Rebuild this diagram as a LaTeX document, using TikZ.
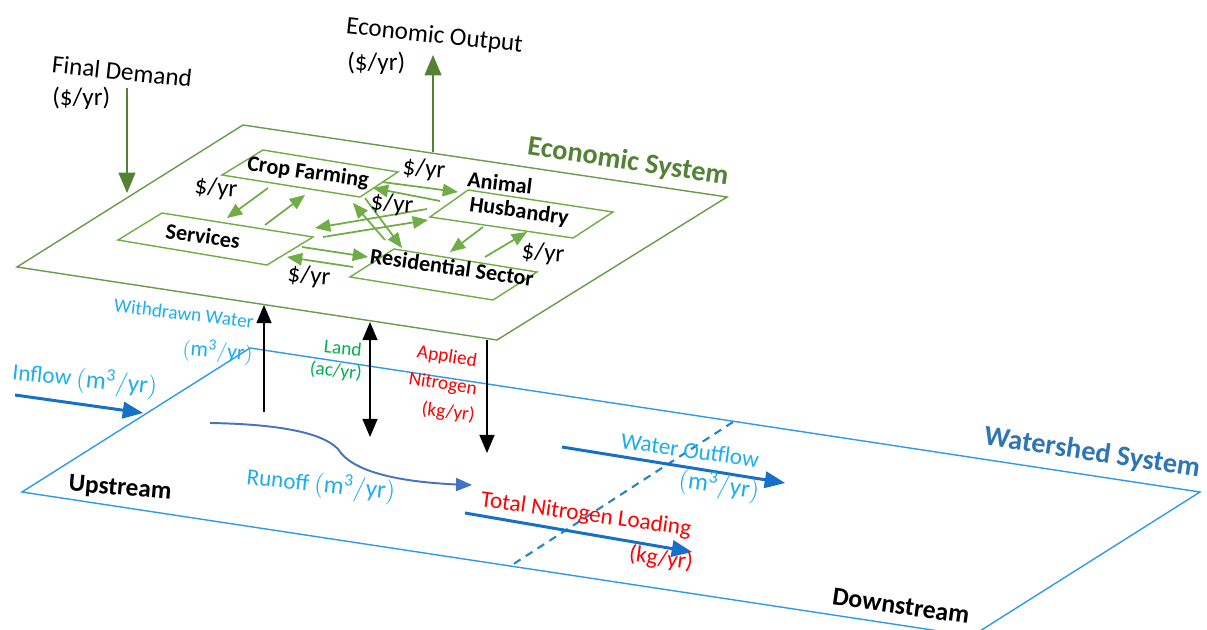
\documentclass[tikz,border=0pt]{standalone}
\usepackage{fontspec}
\setmainfont{Carlito}
\usepackage{tikz}
\usetikzlibrary{arrows}

\definecolor{ecodark}{HTML}{548235}
\definecolor{ecoline}{HTML}{6A9A4A}
\definecolor{ecolight}{HTML}{70AD47}
\definecolor{shedline}{HTML}{2E9AEB}
\definecolor{shedtitle}{HTML}{2E75B6}
\definecolor{flowblue}{HTML}{1670C8}
\definecolor{runblue}{HTML}{4472C4}
\definecolor{cyanlbl}{HTML}{1CAEEF}
\definecolor{landgreen}{HTML}{00B050}
\definecolor{nred}{HTML}{FF0000}

\newcommand{\mthree}{{\fontsize{14.2}{16}\selectfont$(\mathrm{m^3/yr})$}}

\tikzset{
	plane/.style={line width=0.8pt},
	sector/.style={draw=ecolight, line width=0.8pt},
	trade/.style={ecolight, line width=1pt, ->},
	money/.style={ecodark, line width=1.7pt, ->},
	vflow/.style={black, line width=1.4pt},
	bigflow/.style={flowblue, line width=1.7pt, ->},
	lbl/.style={font=\fontsize{14.3}{17}\selectfont, inner sep=0pt},
	boxlbl/.style={font=\fontsize{12.6}{15}\selectfont\bfseries, inner sep=0pt},
	small/.style={font=\fontsize{11}{13}\selectfont, inner sep=0pt},
	mid/.style={font=\fontsize{13.2}{16}\selectfont, inner sep=0pt},
	title/.style={font=\fontsize{16.1}{19}\selectfont\bfseries, inner sep=0pt}
}

\begin{document}
\begin{tikzpicture}[x=0.02cm, y=-0.02cm, >=triangle 45]
	\useasboundingbox (0,0) rectangle (1207,629);

	% watershed system
	\begin{scope}
		\draw[plane, shedline] (250,348) -- (1200,492) -- (972,636) -- (22,492) -- cycle;
		\draw[shedtitle!90!cyan, line width=1.2pt, dash pattern=on 4.5pt off 3.5pt] (733,422) -- (512,565);

		\node[title, shedtitle, rotate=-8.6] (wsys) at (1092,453) {Watershed System};
		\node[lbl, font=\fontsize{14.4}{17}\selectfont\bfseries, rotate=-5] (up) at (120,489) {Upstream};
		\node[lbl, font=\fontsize{14.7}{17}\selectfont\bfseries, rotate=-8] (down) at (901,606) {Downstream};

		\coordinate (in0) at (15,395);
		\coordinate (in1) at (143,413);
		\draw[bigflow] (in0) -- (in1);
		\node[mid, cyanlbl, rotate=-6] (inflow) at (85,380) {Inflow \mthree};

		\coordinate (ro0) at (210,423);
		\coordinate (ro1) at (472,485);
		\draw[runblue, line width=1.1pt, ->] (ro0) .. controls (275,424) and (322,432) .. (338,449) .. controls (352,472) and (400,483) .. (ro1);
		\node[mid, cyanlbl, rotate=-6] (runoff) at (321,485) {Runoff \mthree};

		\coordinate (wo0) at (562,447);
		\coordinate (wo1) at (785,483);
		\draw[bigflow] (wo0) -- (wo1);
		\node[mid, cyanlbl, rotate=-8] (wout1) at (690,450) {Water Outflow};
		\node[mid, cyanlbl, rotate=-8] (wout2) at (719,486) {\mthree};

		\coordinate (tn0) at (465,513);
		\coordinate (tn1) at (692,552);
		\draw[bigflow] (tn0) -- (tn1);
		\node[mid, nred, rotate=-8] (tnl1) at (586,515) {Total Nitrogen Loading};
		\node[mid, nred, rotate=-8] (tnl2) at (661,559) {(kg/yr)};
	\end{scope}

	% economic system
	\begin{scope}
		\draw[plane, ecoline] (243,125) -- (727,197) -- (497,340) -- (17,267) -- cycle;
		\node[title, ecodark, rotate=-8.5] (esys) at (628,162) {Economic System};

		\draw[sector] (263,150) -- (398,172) -- (360,197) -- (222,175) -- cycle;
		\draw[sector] (162,213) -- (313,237) -- (267,265) -- (118,240) -- cycle;
		\draw[sector] (468,190) -- (613,212) -- (573,238) -- (430,217) -- cycle;
		\draw[sector] (394,249) -- (537,272) -- (493,300) -- (350,277) -- cycle;

		\node[boxlbl, rotate=-8] (crop) at (308,173) {Crop Farming};
		\node[boxlbl, rotate=-8] (serv) at (203,236) {Services};
		\node[boxlbl, rotate=-7] (anim1) at (500,183) {Animal};
		\node[boxlbl, rotate=-8] (anim2) at (519,212) {Husbandry};
		\node[boxlbl, rotate=-8] (resid) at (452,267) {Residential Sector};

		% flows between sectors
		\coordinate (cs0) at (268,188); \coordinate (cs1) at (227,218);
		\coordinate (sc0) at (265,225); \coordinate (sc1) at (305,195);
		\coordinate (ca0) at (382,182); \coordinate (ca1) at (458,192);
		\coordinate (ac0) at (440,201); \coordinate (ac1) at (373,188);
		\coordinate (as0) at (427,209); \coordinate (as1) at (315,228);
		\coordinate (sa0) at (323,237); \coordinate (sa1) at (428,220);
		\coordinate (rc0) at (385,240); \coordinate (rc1) at (353,203);
		\coordinate (cr0) at (365,198); \coordinate (cr1) at (402,248);
		\coordinate (sr0) at (302,247); \coordinate (sr1) at (368,257);
		\coordinate (rs0) at (353,267); \coordinate (rs1) at (287,257);
		\coordinate (ar0) at (483,227); \coordinate (ar1) at (450,252);
		\coordinate (ra0) at (485,257); \coordinate (ra1) at (527,232);
		\foreach \f in {cs,sc,ca,ac,as,sa,rc,cr,sr,rs,ar,ra}
			\draw[trade] (\f0) -- (\f1);

		\node[lbl, rotate=-5] (p1) at (216,189) {\$/yr};
		\node[lbl, rotate=-5] (p2) at (424,170) {\$/yr};
		\node[lbl, rotate=-5] (p3) at (392,205) {\$/yr};
		\node[lbl, rotate=-5] (p4) at (543,254) {\$/yr};
		\node[lbl, rotate=-5] (p5) at (309,277) {\$/yr};

		\coordinate (fd0) at (127,88);
		\coordinate (fd1) at (127,193);
		\draw[money] (fd0) -- (fd1);
		\node[lbl, anchor=west, rotate=-6] (fdem1) at (52,64) {Final Demand};
		\node[lbl, anchor=west] (fdem2) at (52,98) {(\$/yr)};

		\coordinate (eo0) at (433,152);
		\coordinate (eo1) at (433,55);
		\draw[money] (eo0) -- (eo1);
		\node[lbl, anchor=west, rotate=-6] (eout1) at (346,27) {Economic Output};
		\node[lbl, anchor=west] (eout2) at (347,63) {(\$/yr)};
	\end{scope}

	% exchanges between the two systems
	\coordinate (ww0) at (264,412);
	\coordinate (ww1) at (264,305);
	\draw[vflow, ->] (ww0) -- (ww1);
	\node[small, cyanlbl, anchor=east, rotate=-7] (wwl1) at (254,322) {Withdrawn Water};
	\node[small, cyanlbl, anchor=east, rotate=-5] (wwl2) at (253,355) {{\fontsize{12.5}{14}\selectfont$(\mathrm{m^3/yr})$}};

	\coordinate (ld0) at (370,322);
	\coordinate (ld1) at (370,437);
	\draw[vflow, <->] (ld0) -- (ld1);
	\node[small, landgreen, anchor=east, rotate=-6] (land1) at (362,350) {Land};
	\node[small, landgreen, anchor=east, rotate=-6] (land2) at (362,374) {(ac/yr)};

	\coordinate (an0) at (487,340);
	\coordinate (an1) at (487,453);
	\draw[vflow, ->] (an0) -- (an1);
	\node[small, nred, anchor=east, rotate=-9] (appn1) at (477,362) {Applied};
	\node[small, nred, anchor=east, rotate=-9] (appn2) at (477,390) {Nitrogen};
	\node[small, nred, anchor=east, rotate=-7] (appn3) at (475,416) {(kg/yr)};
\end{tikzpicture}
\end{document}
